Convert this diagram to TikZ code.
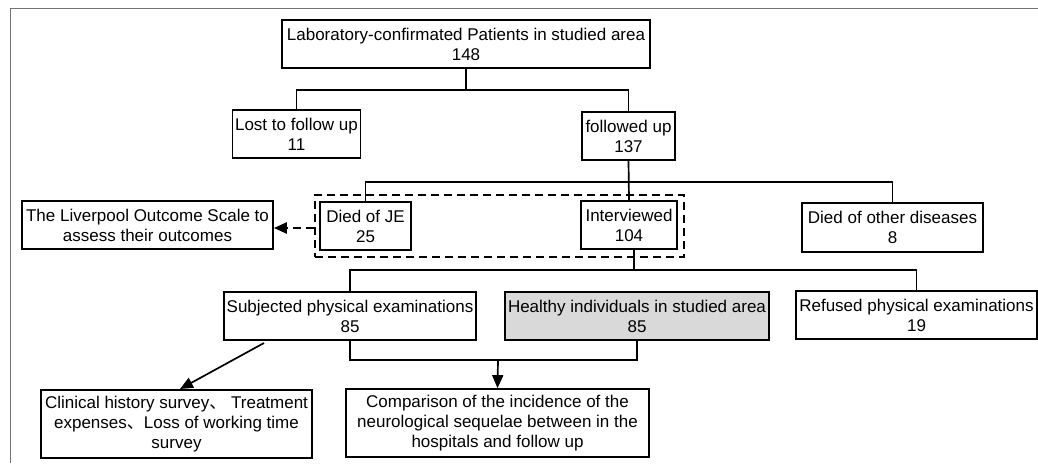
\documentclass[tikz,border=0pt]{standalone}
\usepackage{fontspec}
\setmainfont{Liberation Sans}
\newfontfamily\cjk{Noto Sans CJK SC}
\usetikzlibrary{arrows.meta}
\definecolor{framegray}{gray}{0.45}
\definecolor{boxgray}{gray}{0.85}
\tikzset{
  box/.style={draw=black, line width=1.7pt, inner sep=0pt, align=center,
    font=\fontsize{17}{20}\selectfont},
  link/.style={draw=black, line width=1.7pt},
  arr/.style={link, -{Triangle[length=13pt,width=11pt]}},
  grpbox/.style={draw=black, line width=2.4pt, dash pattern=on 8pt off 5pt, inner sep=0pt},
}
\begin{document}
\begin{tikzpicture}[x=1pt,y=-1pt]
\useasboundingbox (0,0) rectangle (1038,463);
\draw[framegray, line width=1.6pt] (10.5,463) -- (10.5,8.5) -- (1038,8.5);

\node[box, minimum width=368, minimum height=48] (top) at (466,44) {Laboratory-confirmated Patients in studied area\\148};
\node[box, minimum width=128, minimum height=48] (lost) at (296.5,134) {Lost to follow up\\11};
\node[box, minimum width=93, minimum height=48] (fol) at (628.5,136) {followed up\\137};

\node[grpbox, minimum width=369, minimum height=62] (grp) at (499.5,226) {};
\node[box, minimum width=91, minimum height=48] (je) at (365.5,226) {Died of JE\\25};
\node[box, minimum width=96, minimum height=48] (int) at (629,225) {Interviewed\\104};
\node[box, minimum width=181, minimum height=49] (oth) at (892.5,227.5) {Died of other diseases\\8};
\node[box, minimum width=251, minimum height=48] (liv) at (147.5,225) {The Liverpool Outcome Scale to\\assess their outcomes};

\node[box, minimum width=252, minimum height=48] (sub) at (350,316) {Subjected physical examinations\\85};
\node[box, fill=boxgray, minimum width=264, minimum height=48] (hea) at (637,316) {Healthy individuals in studied area\\85};
\node[box, minimum width=241, minimum height=48] (ref) at (916.5,315) {Refused physical examinations\\19};

\node[box, minimum width=303, minimum height=68] (cmp) at (497.5,423) {Comparison of the incidence of the\\neurological sequelae between in the\\hospitals and follow up};
\node[box, minimum width=271, minimum height=68] (cli) at (176.5,424) {Clinical history survey{\cjk 、} Treatment\\expenses{\cjk 、}Loss of working time\\survey};

% top split
\coordinate (j1) at (466,90);
\draw[link] (top.south) -- (j1);
\draw[link] (lost.north) |- (j1) -| (fol.north);

% followed split
\coordinate (j2) at (628.5,182);
\draw[link] (fol.south) -- (int.north);
\draw[link] (je.north) |- (j2) -| (oth.north);

% dashed arrow
\draw[link, dash pattern=on 8pt off 5pt, line width=2.4pt, -{Triangle[length=13pt,width=11pt]}] (grp.west |- 0,228) -- (liv.east |- 0,228);

% interviewed split
\coordinate (j3) at (634,270);
\draw[link] (int.south -| j3) -- (j3);
\draw[link] (sub.north) |- (j3) -| (ref.north);

% bottom merge
\coordinate (j4) at (498,360);
\draw[link] (sub.south) |- (j4) -| (hea.south);
\draw[arr] (j4) -- (cmp.north);

% diagonal arrow
\coordinate (d1) at (264,343);
\draw[arr] (d1) -- (180,389);
\end{tikzpicture}
\end{document}
